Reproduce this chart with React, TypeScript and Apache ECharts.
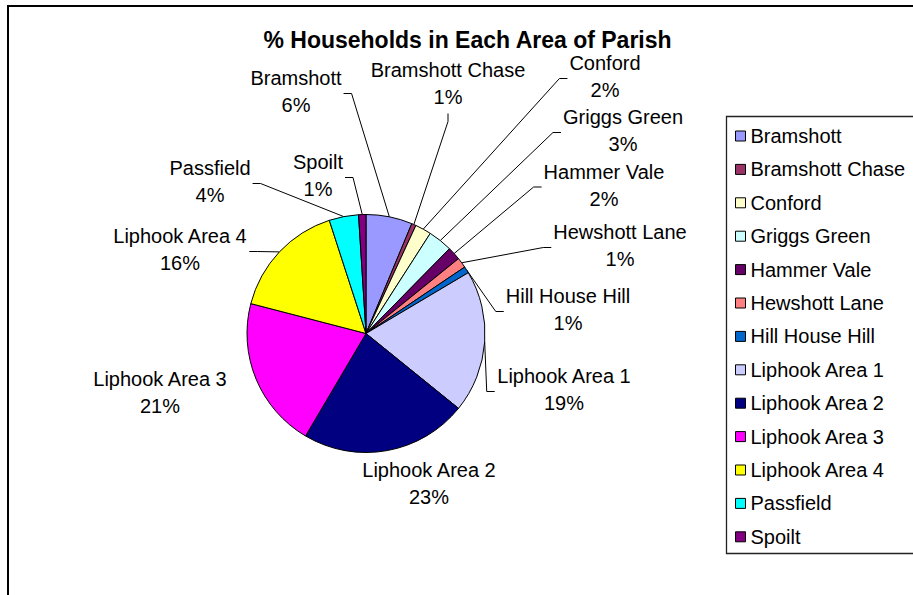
import React, { useEffect, useRef } from "react";
import * as echarts from "echarts";

// ---- data ----
const categories = [
  "Bramshott",
  "Bramshott Chase",
  "Conford",
  "Griggs Green",
  "Hammer Vale",
  "Hewshott Lane",
  "Hill House Hill",
  "Liphook Area 1",
  "Liphook Area 2",
  "Liphook Area 3",
  "Liphook Area 4",
  "Passfield",
  "Spoilt",
];
const shares = [6.3, 0.6, 2.2, 3.3, 1.8, 1.4, 0.9, 19.4, 22.7, 20.6, 16.0, 4.0, 1.0];
const titleText = "% Households in Each Area of Parish";

// ---- styles ----
const colors = [
  "#9999FF",
  "#993366",
  "#FFFFCC",
  "#CCFFFF",
  "#660066",
  "#FF8080",
  "#0066CC",
  "#CCCCFF",
  "#000080",
  "#FF00FF",
  "#FFFF00",
  "#00FFFF",
  "#800080",
];
const labelCenters: [number, number][] = [
  [296, 91.5],
  [448, 83.5],
  [605, 76.5],
  [623, 130.5],
  [604, 185],
  [620, 245.5],
  [568, 309.5],
  [564, 389.5],
  [429, 483.5],
  [160, 392.5],
  [180, 249.5],
  [210, 181.5],
  [318, 175.5],
];
const leaderSide = [
  "right",
  "bottom",
  "left",
  "left",
  "left",
  "left",
  "left",
  "left",
  "none",
  "none",
  "right",
  "right",
  "right",
];
const FONT = "'Liberation Sans', Arial, sans-serif";

export default function App() {
  const ref = useRef<HTMLDivElement>(null);
  useEffect(() => {
    if (!ref.current) return;
    const chart = echarts.init(ref.current, undefined, { renderer: "svg" });
    const data = categories.map((name, i) => ({
      name,
      value: shares[i],
      itemStyle: { color: colors[i] },
      labelLine: { show: leaderSide[i] !== "none" },
    }));
    chart.setOption({
      animation: false,
      backgroundColor: "#ffffff",
      graphic: [
        {
          type: "rect",
          shape: { x: 8, y: 6, width: 1000, height: 700 },
          style: { fill: "none", stroke: "#000", lineWidth: 2 },
          silent: true,
        },
        {
          type: "rect",
          shape: { x: 726.5, y: 116.5, width: 300, height: 437 },
          style: { fill: "none", stroke: "#222", lineWidth: 1.3 },
          silent: true,
        },
        {
          type: "text",
          x: 467.5,
          y: 40,
          style: {
            text: titleText,
            align: "center",
            verticalAlign: "middle",
            fontFamily: FONT,
            fontSize: 23,
            fontWeight: "bold",
            fill: "#000",
          },
        },
      ],
      legend: {
        orient: "vertical",
        left: 735,
        top: 126,
        padding: 0,
        itemGap: 13.4,
        itemWidth: 10,
        itemHeight: 10,
        icon: "rect",
        selectedMode: false,
        itemStyle: { borderColor: "#000", borderWidth: 1 },
        textStyle: { fontFamily: FONT, fontSize: 20, color: "#000", lineHeight: 20 },
        data: categories,
      },
      series: [
        {
          type: "pie",
          center: [366, 333.5],
          radius: 119,
          startAngle: 90,
          clockwise: true,
          avoidLabelOverlap: false,
          emphasis: { disabled: true },
          itemStyle: { borderColor: "#000", borderWidth: 1 },
          label: {
            show: true,
            position: "outside",
            fontFamily: FONT,
            fontSize: 20,
            lineHeight: 27,
            color: "#000",
            formatter: (p: any) => `${p.name}\n${Math.round(p.percent)}%`,
          },
          labelLine: {
            show: true,
            length: 10,
            length2: 8,
            lineStyle: { color: "#000", width: 1 },
          },
          labelLayout: (params: any) => {
            const i = params.dataIndex;
            const [cx, cy] = labelCenters[i];
            const w = params.labelRect.width;
            const h = params.labelRect.height;
            const side = leaderSide[i];
            const res: any = { x: cx, y: cy, align: "center", verticalAlign: "middle" };
            const pts = params.labelLinePoints;
            if (pts && side !== "none") {
              const arc = pts[0];
              let a: number[];
              let b: number[];
              if (side === "right") {
                a = [cx + w / 2 + 2, cy + 2];
                b = [a[0] + 8, a[1]];
              } else if (side === "left") {
                a = [cx - w / 2 - 2, cy + 2];
                b = [a[0] - 8, a[1]];
              } else {
                a = [cx, cy + h / 2 + 3];
                b = [cx, a[1] + 8];
              }
              res.labelLinePoints = [arc, b, a];
            }
            return res;
          },
          data,
        },
      ],
    });
    return () => chart.dispose();
  }, []);
  return (
    <div
      ref={ref}
      style={{ position: "absolute", left: 0, top: 0, width: 913, height: 595 }}
    />
  );
}
